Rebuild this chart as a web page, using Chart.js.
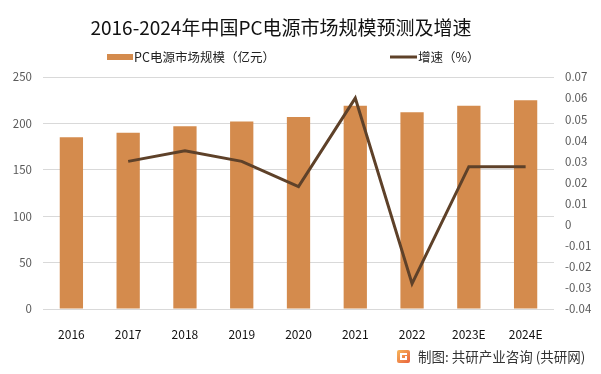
<!DOCTYPE html>
<html>
<head>
<meta charset="utf-8">
<script src="https://cdn.jsdelivr.net/npm/chart.js@4.4.0/dist/chart.umd.min.js"></script>
<style>
  html, body { margin: 0; padding: 0; background: #fff; }
  #wrap { position: relative; width: 601px; height: 374px; }
</style>
</head>
<body>
<div id="wrap"><canvas id="mainChart" width="601" height="374"></canvas></div>
<script>
// --- data ---
const chartTitle = '2016-2024年中国PC电源市场规模预测及增速';
const years = ['2016', '2017', '2018', '2019', '2020', '2021', '2022', '2023E', '2024E'];
const marketSize = [185, 190, 197, 202, 207, 219, 212, 219, 225];       // 亿元
const growthRate = [null, 0.030, 0.035, 0.030, 0.018, 0.060, -0.028, 0.0275, 0.0275];
const sizeLabel = 'PC电源市场规模（亿元）';
const growthLabel = '增速（%）';
const sourceText = '制图: 共研产业咨询 (共研网)';

const FONT = '"Noto Sans CJK SC", "Noto Sans", sans-serif';
const barColor = '#D48B4D';
const lineColor = '#5E4129';

// title, legend and footer drawn on the canvas
const decorPlugin = {
    id: 'decor',
    afterDraw(chart) {
        const ctx = chart.ctx;
        ctx.save();
        // title
        ctx.fillStyle = '#111';
        ctx.font = '19px ' + FONT;
        ctx.textAlign = 'center';
        ctx.textBaseline = 'middle';
        ctx.fillText(chartTitle, 281, 28);

        // legend
        ctx.font = '12.5px ' + FONT;
        ctx.textAlign = 'left';
        ctx.fillStyle = barColor;
        ctx.fillRect(107, 54, 26, 6);
        ctx.fillStyle = '#222';
        ctx.fillText(sizeLabel, 134, 57);
        ctx.strokeStyle = lineColor;
        ctx.lineWidth = 3;
        ctx.beginPath();
        ctx.moveTo(390, 57);
        ctx.lineTo(417, 57);
        ctx.stroke();
        ctx.fillText(growthLabel, 418, 57);

        // footer logo + source
        const g = ctx.createLinearGradient(397, 350, 410, 363);
        g.addColorStop(0, '#F7B65A');
        g.addColorStop(1, '#E9623D');
        ctx.fillStyle = g;
        ctx.beginPath();
        ctx.roundRect(397, 350, 13, 13, 2);
        ctx.fill();
        ctx.fillStyle = '#fff';
        ctx.fillRect(400, 353, 7, 2);
        ctx.fillRect(400, 353, 2, 7);
        ctx.fillRect(400, 358, 7, 2);
        ctx.fillRect(405, 356, 2, 4);
        ctx.fillStyle = '#333';
        ctx.font = '13.5px ' + FONT;
        ctx.fillText(sourceText, 418, 357);
        ctx.restore();
    }
};

new Chart(document.getElementById('mainChart'), {
    data: {
        labels: years,
        datasets: [
            {
                type: 'line',
                label: growthLabel,
                data: growthRate,
                yAxisID: 'y1',
                borderColor: lineColor,
                borderWidth: 3,
                pointRadius: 0,
                tension: 0,
                order: 1
            },
            {
                type: 'bar',
                label: sizeLabel,
                data: marketSize,
                yAxisID: 'y',
                backgroundColor: barColor,
                categoryPercentage: 1,
                barPercentage: 0.41,
                order: 2
            }
        ]
    },
    options: {
        responsive: false,
        animation: false,
        layout: { padding: { top: 77, left: 0, right: 0, bottom: 0 } },
        plugins: { legend: { display: false }, title: { display: false }, tooltip: { enabled: false } },
        scales: {
            x: {
                grid: { display: false },
                border: { display: false },
                ticks: { color: '#111', font: { family: FONT, size: 12 }, padding: 10, maxRotation: 0 },
                afterFit: s => { s.height = 65; }
            },
            y: {
                position: 'left',
                min: 0, max: 250,
                ticks: { stepSize: 50, color: '#595959', font: { family: FONT, size: 11.5 }, padding: 11 },
                grid: { color: '#D9D9D9', drawTicks: false },
                border: { display: false },
                afterFit: s => { s.width = 43; }
            },
            y1: {
                position: 'right',
                min: -0.04, max: 0.07,
                ticks: {
                    stepSize: 0.01, color: '#595959', font: { family: FONT, size: 11.5 }, padding: 11,
                    callback: v => String(parseFloat(v.toFixed(2)))
                },
                grid: { display: false, drawTicks: false },
                border: { display: false },
                afterFit: s => { s.width = 47; }
            }
        }
    },
    plugins: [decorPlugin]
});
</script>
</body>
</html>
